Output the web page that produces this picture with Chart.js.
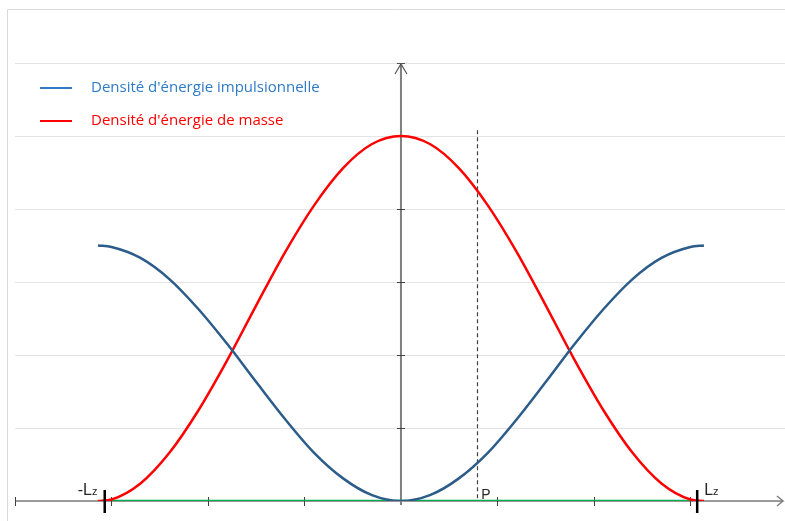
<!DOCTYPE html>
<html>
<head>
<meta charset="utf-8">
<script src="https://cdn.jsdelivr.net/npm/chart.js@4"></script>
<style>
  html, body { margin: 0; padding: 0; background: #ffffff; }
  #wrap { width: 785px; height: 521px; }
</style>
</head>
<body>
<div id="wrap"><canvas id="densityChart" width="785" height="521"></canvas></div>
<script>
// Energy densities along z between -Lz and Lz
const zValues = [-3.14, -3.0, -2.7, -2.4, -2.1, -1.8, -1.5, -1.2, -0.9, -0.6, -0.3, 0,
                 0.3, 0.6, 0.9, 1.2, 1.5, 1.8, 2.1, 2.4, 2.7, 3.0, 3.14];
const massDensity = [0, 0.02, 0.24, 0.66, 1.24, 1.93, 2.68, 3.41, 4.05, 4.56, 4.89, 5,
                     4.89, 4.56, 4.05, 3.41, 2.68, 1.93, 1.24, 0.66, 0.24, 0.02, 0];
const impulseDensity = [3.5, 3.48, 3.33, 3.04, 2.63, 2.15, 1.63, 1.12, 0.66, 0.31, 0.08, 0,
                        0.08, 0.31, 0.66, 1.12, 1.63, 2.15, 2.63, 3.04, 3.33, 3.48, 3.5];
const baseZ = [-3, 3];
const baseValues = [0, 0];

const seriesLabels = ["Densité d'énergie impulsionnelle", "Densité d'énergie de masse"];
const xTicks = [-4, -3, -2, -1, 1, 2, 3];
const yTicks = [1, 2, 3, 4];
const lzValue = 3.07;
const pointP = { z: 0.79, top: 5.08 };

const toPoints = (xs, ys) => xs.map((x, i) => ({ x: x, y: ys[i] }));

const datasets = [
    {
        label: seriesLabels[0],
        data: toPoints(zValues, impulseDensity),
        borderColor: '#2b5c8a',
        borderWidth: 2.5
    },
    {
        label: seriesLabels[1],
        data: toPoints(zValues, massDensity),
        borderColor: '#ff0000',
        borderWidth: 2.5
    },
    {
        label: 'base',
        data: toPoints(baseZ, baseValues),
        borderColor: '#00b050',
        borderWidth: 2.5
    }
];
datasets.forEach(d => {
    d.showLine = true;
    d.pointRadius = 0;
    d.fill = false;
    d.cubicInterpolationMode = 'monotone';
});

// Frame, axes with arrows, tick marks
const axesPlugin = {
    id: 'axesDraw',
    beforeDatasetsDraw(chart) {
        const { ctx, chartArea, scales: { x, y } } = chart;
        const x0 = x.getPixelForValue(0);
        const y0 = y.getPixelForValue(0);
        ctx.save();
        // outer frame (top + left)
        ctx.strokeStyle = '#d9d9d9';
        ctx.lineWidth = 1;
        ctx.beginPath();
        ctx.moveTo(785, 9.5);
        ctx.lineTo(7.5, 9.5);
        ctx.lineTo(7.5, 521);
        ctx.stroke();

        ctx.strokeStyle = '#7f7f7f';
        ctx.lineWidth = 1.5;
        // x axis
        ctx.beginPath();
        ctx.moveTo(x.getPixelForValue(-4), y0);
        ctx.lineTo(783, y0);
        ctx.moveTo(777, y0 - 5);
        ctx.lineTo(783, y0);
        ctx.lineTo(777, y0 + 5);
        ctx.stroke();
        // y axis
        ctx.lineWidth = 2;
        ctx.beginPath();
        ctx.moveTo(x0, y0 + 4);
        ctx.lineTo(x0, chartArea.top);
        ctx.stroke();
        ctx.lineWidth = 1.2;
        ctx.strokeStyle = '#555555';
        ctx.beginPath();
        ctx.moveTo(x0 - 6, chartArea.top + 11);
        ctx.lineTo(x0, chartArea.top + 1);
        ctx.lineTo(x0 + 6, chartArea.top + 11);
        ctx.moveTo(x0 - 4, chartArea.top + 0.5);
        ctx.lineTo(x0 + 4, chartArea.top + 0.5);
        ctx.stroke();

        // tick marks
        ctx.strokeStyle = '#404040';
        ctx.lineWidth = 1;
        ctx.beginPath();
        xTicks.forEach(v => {
            const px = Math.round(x.getPixelForValue(v)) + 0.5;
            ctx.moveTo(px, y0 - 4);
            ctx.lineTo(px, y0 + 5);
        });
        yTicks.forEach(v => {
            const py = Math.round(y.getPixelForValue(v)) + 0.5;
            ctx.moveTo(x0 - 4, py);
            ctx.lineTo(x0 + 4, py);
        });
        ctx.stroke();

        // dashed line at P
        const pxP = Math.round(x.getPixelForValue(pointP.z)) + 0.5;
        ctx.strokeStyle = '#404040';
        ctx.lineWidth = 1.2;
        ctx.setLineDash([4, 3]);
        ctx.beginPath();
        ctx.moveTo(pxP, y.getPixelForValue(pointP.top));
        ctx.lineTo(pxP, y0);
        ctx.stroke();
        ctx.restore();
    },
    afterDatasetsDraw(chart) {
        const { ctx, scales: { x, y } } = chart;
        const y0 = y.getPixelForValue(0);
        ctx.save();
        // bold -Lz / Lz marks
        ctx.strokeStyle = '#000000';
        ctx.lineWidth = 2.5;
        ctx.beginPath();
        [-lzValue, lzValue].forEach(v => {
            const px = x.getPixelForValue(v);
            ctx.moveTo(px, y0 - 11);
            ctx.lineTo(px, y0 + 12);
        });
        ctx.stroke();

        // labels
        ctx.fillStyle = '#262626';
        ctx.textBaseline = 'alphabetic';
        const drawLz = (text, left) => {
            ctx.font = '16px "Liberation Sans", Arial, sans-serif';
            ctx.fillText(text, left, y0 - 6);
            const w = ctx.measureText(text).width;
            ctx.font = '11px "Liberation Sans", Arial, sans-serif';
            ctx.fillText('z', left + w, y0 - 6);
        };
        ctx.textAlign = 'left';
        drawLz('-L', x.getPixelForValue(-lzValue) - 27);
        drawLz('L', x.getPixelForValue(lzValue) + 7);
        ctx.font = '14px "Liberation Sans", Arial, sans-serif';
        ctx.fillText('P', x.getPixelForValue(pointP.z) + 4, y0 - 2);

        // legend inside the plot
        const legend = [
            { text: seriesLabels[0], color: '#2e7bc6', y: 88 },
            { text: seriesLabels[1], color: '#ff0000', y: 121 }
        ];
        ctx.font = '15px "Open Sans", sans-serif';
        ctx.textBaseline = 'middle';
        legend.forEach(l => {
            ctx.strokeStyle = l.color;
            ctx.lineWidth = 2;
            ctx.beginPath();
            ctx.moveTo(40, l.y);
            ctx.lineTo(72, l.y);
            ctx.stroke();
            ctx.fillStyle = l.color;
            ctx.fillText(l.text, 91, l.y);
        });
        ctx.restore();
    }
};

new Chart(document.getElementById('densityChart').getContext('2d'), {
    type: 'scatter',
    data: { datasets },
    options: {
        responsive: false,
        animation: false,
        layout: { padding: { left: 15, right: 0, top: 63, bottom: 20 } },
        plugins: {
            legend: { display: false },
            tooltip: { enabled: false }
        },
        scales: {
            x: {
                type: 'linear',
                min: -4, max: 3.98,
                grid: { display: false, drawTicks: false },
                border: { display: false },
                ticks: { display: false }
            },
            y: {
                type: 'linear',
                min: 0, max: 6,
                grid: { color: '#e4e4e4', drawTicks: false, lineWidth: 1 },
                border: { display: false },
                ticks: { display: false, stepSize: 1 }
            }
        }
    },
    plugins: [axesPlugin]
});
</script>
</body>
</html>
